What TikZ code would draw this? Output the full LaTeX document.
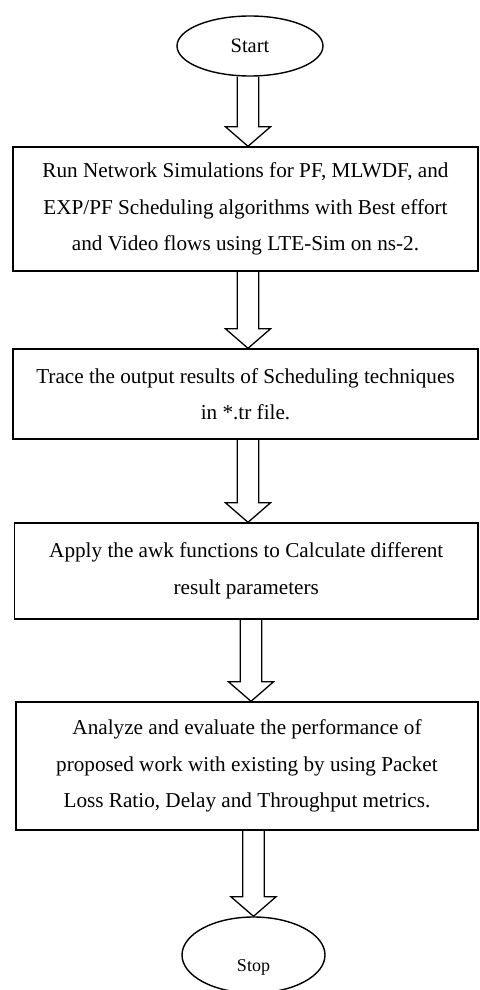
\documentclass[tikz,border=0pt]{standalone}
\usepackage{fontspec}
\setmainfont{Liberation Serif}
\usetikzlibrary{shapes.geometric,calc}
\newcommand{\fatarrow}[3]{%
  \draw[fatarr] let \p1=(#1.south), \p2=(#2.north) in
    (#3pt-10.75pt,\y1) -- (#3pt-10.75pt,\y2+19.5pt) -- (#3pt-22.5pt,\y2+19.5pt)
    -- (#3pt,\y2) -- (#3pt+22.5pt,\y2+19.5pt) -- (#3pt+10.75pt,\y2+19.5pt)
    -- (#3pt+10.75pt,\y1);}
\begin{document}
\begin{tikzpicture}[x=1pt,y=-1pt,
  boxnode/.style={draw,line width=1.4pt,rectangle,align=center,inner sep=0pt,
    font=\fontsize{21.2}{36.5}\selectfont},
  termnode/.style={draw,line width=1.4pt,ellipse,inner sep=0pt},
  fatarr/.style={draw,line width=1.3pt,line join=miter}]
\useasboundingbox (0,0) rectangle (479,990);
\clip (0,0) rectangle (479,990);
\node[termnode,minimum width=146pt,minimum height=60pt,
  font=\fontsize{20.5}{24}\selectfont] (start) at (250,46) {Start};
\node[boxnode,minimum width=465pt,minimum height=124pt] (box1) at (245.5,209)
  {Run Network Simulations for PF, MLWDF, and\\EXP/PF Scheduling algorithms with Best effort\\and Video flows using LTE-Sim on ns-2.};
\node[boxnode,minimum width=465pt,minimum height=90pt] (box2) at (245.5,394)
  {Trace the output results of Scheduling techniques\\in *.tr file.};
\node[boxnode,minimum width=463.5pt,minimum height=96pt] (box3) at (246.25,571)
  {Apply the awk functions to Calculate different\\result parameters};
\node[boxnode,minimum width=462pt,minimum height=128pt] (box4) at (247,766)
  {Analyze and evaluate the performance of\\proposed work with existing by using Packet\\Loss Ratio, Delay and Throughput metrics.};
\node[termnode,minimum width=143pt,minimum height=76pt,text height=32pt,text depth=0pt,
  font=\fontsize{18}{22}\selectfont] (stop) at (253.5,955) {Stop};
\fatarrow{start}{box1}{248}
\fatarrow{box1}{box2}{248}
\fatarrow{box2}{box3}{248}
\fatarrow{box3}{box4}{251}
\fatarrow{box4}{stop}{253.5}
\end{tikzpicture}
\end{document}
